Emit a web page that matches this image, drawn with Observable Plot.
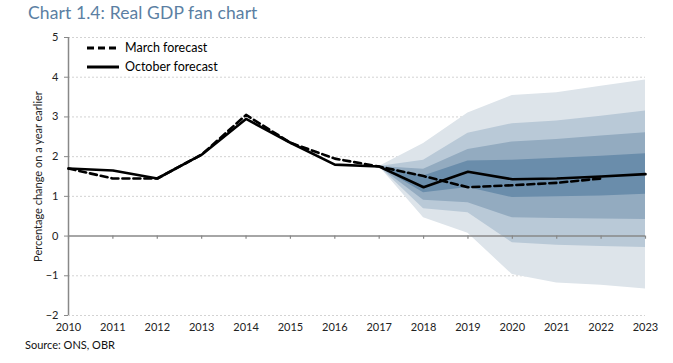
<!DOCTYPE html>
<html>
<head>
<meta charset="utf-8">
<script src="https://cdn.jsdelivr.net/npm/d3@7"></script>
<script src="https://cdn.jsdelivr.net/npm/@observablehq/plot@0.6"></script>
<style>
  html, body { margin: 0; padding: 0; background: #fff; }
  #wrap { position: relative; width: 673px; height: 363px; font-family: Lato, "Open Sans", sans-serif; }
  #title { position: absolute; left: 28px; top: 2px; font-size: 17.5px; color: #5b7fa3; letter-spacing: 0.1px; }
  #source { position: absolute; left: 25px; top: 338px; font-size: 11px; color: #111; }
  #legend { position: absolute; left: 86px; top: 38px; font-size: 12.5px; color: #000; }
  #legend div { display: flex; align-items: center; height: 19px; }
  #legend svg { margin-right: 5px; }
  #chart { position: absolute; left: 0; top: 0; }
</style>
</head>
<body>
<div id="wrap">
  <div id="chart"></div>
  <div id="title">Chart 1.4: Real GDP fan chart</div>
  <div id="legend">
    <div><svg width="34" height="6"><line x1="1" y1="3" x2="33" y2="3" stroke="#000" stroke-width="3" stroke-dasharray="7,4"/></svg>March forecast</div>
    <div><svg width="34" height="6"><line x1="1" y1="3" x2="33" y2="3" stroke="#000" stroke-width="3"/></svg>October forecast</div>
  </div>
  <div id="source">Source: ONS, OBR</div>
</div>
<script>
const years = [2010, 2011, 2012, 2013, 2014, 2015, 2016, 2017, 2018, 2019, 2020, 2021, 2022, 2023];
const october = [1.70, 1.65, 1.45, 2.05, 2.95, 2.35, 1.80, 1.75, 1.23, 1.62, 1.43, 1.45, 1.50, 1.56];
const marchYears = [2010, 2011, 2012, 2013, 2014, 2015, 2016, 2017, 2018, 2019, 2020, 2021, 2022];
const march = [1.70, 1.45, 1.45, 2.05, 3.05, 2.35, 1.95, 1.75, 1.51, 1.23, 1.28, 1.34, 1.45];

const fanYears = [2017, 2018, 2019, 2020, 2021, 2022, 2023];
const band4Upper = [1.75, 2.33, 3.10, 3.54, 3.61, 3.77, 3.93];
const band4Lower = [1.75, 0.46, 0.07, -0.97, -1.18, -1.24, -1.33];
const band3Upper = [1.75, 1.91, 2.59, 2.83, 2.90, 3.02, 3.15];
const band3Lower = [1.75, 0.69, 0.59, -0.17, -0.23, -0.26, -0.29];
const band2Upper = [1.75, 1.68, 2.18, 2.37, 2.43, 2.52, 2.60];
const band2Lower = [1.75, 0.90, 0.84, 0.46, 0.44, 0.43, 0.42];
const band1Upper = [1.75, 1.51, 1.89, 1.91, 1.96, 2.01, 2.07];
const band1Lower = [1.75, 1.09, 1.22, 0.97, 0.99, 1.01, 1.05];

const yTicks = [-2, -1, 0, 1, 2, 3, 4, 5];

const bands = [
  {upper: band4Upper, lower: band4Lower, fill: "#dde4ea"},
  {upper: band3Upper, lower: band3Lower, fill: "#b9c9d7"},
  {upper: band2Upper, lower: band2Lower, fill: "#93abc0"},
  {upper: band1Upper, lower: band1Lower, fill: "#6a8dab"}
];

const octData = years.map((x, i) => ({x, y: october[i]}));
const marData = marchYears.map((x, i) => ({x, y: march[i]}));

const marks = [];
// gridlines
marks.push(Plot.ruleY(yTicks.filter(d => d !== 0), {y: d => d, stroke: "#c8c8c8", strokeWidth: 0.8, strokeDasharray: "2,2"}));
// fan
for (const b of bands) {
  const data = fanYears.map((x, i) => ({x, y1: b.lower[i], y2: b.upper[i]}));
  marks.push(Plot.areaY(data, {x: "x", y1: "y1", y2: "y2", fill: b.fill}));
}
// zero line and ticks
marks.push(Plot.ruleY([0], {stroke: "#888", strokeWidth: 1.5}));
marks.push(Plot.ruleX(years, {x: d => d, y1: 0, y2: -0.08, stroke: "#888", strokeWidth: 1.2}));
// y axis line
marks.push(Plot.ruleX([2010], {x: d => d, y1: -2, y2: 5, stroke: "#888", strokeWidth: 1.5}));
// series
marks.push(Plot.line(marData, {x: "x", y: "y", stroke: "#000", strokeWidth: 2.6, strokeDasharray: "7,4"}));
marks.push(Plot.line(octData, {x: "x", y: "y", stroke: "#000", strokeWidth: 2.6}));
// axes
marks.push(Plot.axisY(yTicks, {tickSize: 4, tickPadding: 6, stroke: "#888", fontSize: 11, color: "#222",
  label: "Percentage change on a year earlier", labelAnchor: "center", labelOffset: 34, labelArrow: "none"}));
marks.push(Plot.axisX(years, {tickSize: 0, tickPadding: 8, tickFormat: d => String(d), fontSize: 11, color: "#222", label: null}));

const chart = Plot.plot({
  width: 673,
  height: 363,
  marginLeft: 68,
  marginRight: 28,
  marginTop: 37,
  marginBottom: 48,
  style: {fontFamily: "Lato, 'Open Sans', sans-serif", background: "transparent", color: "#222"},
  x: {domain: [2010, 2023]},
  y: {domain: [-2, 5]},
  marks
});
document.getElementById("chart").appendChild(chart);
</script>
</body>
</html>
